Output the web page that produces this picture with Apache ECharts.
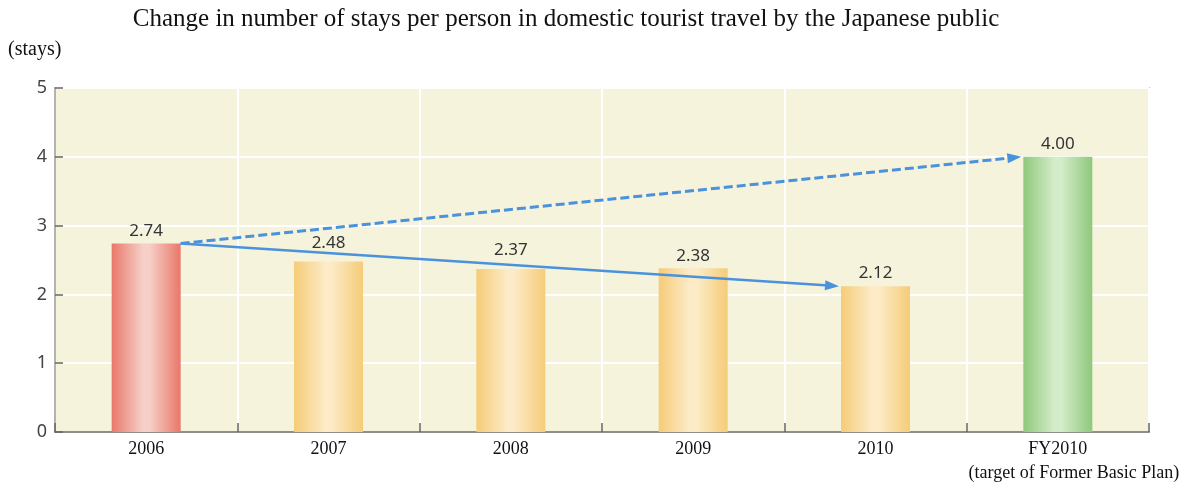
<!DOCTYPE html>
<html>
<head>
<meta charset="utf-8">
<script src="https://cdn.jsdelivr.net/npm/echarts@6/dist/echarts.min.js"></script>
<style>
  html, body { margin: 0; padding: 0; background: #ffffff; }
  #chart { width: 1195px; height: 486px; }
</style>
</head>
<body>
<div id="chart"></div>
<script>
// Stays per person per year, domestic tourist travel
const categories = ['2006', '2007', '2008', '2009', '2010', 'FY2010'];
const stays = [2.74, 2.48, 2.37, 2.38, 2.12, 4.00];
const valueLabels = ['2.74', '2.48', '2.37', '2.38', '2.12', '4.00'];
const yTicks = [0, 1, 2, 3, 4, 5];
// Arrows: [from category index, to category index, dashed?]
const arrows = [
  [0, 4, 0],
  [0, 5, 1]
];

const BAR_W = 69;
// Labels lifted a little higher so the trend arrow passes beneath them
const LIFTED_LABELS = new Set([1, 2]);

function barGradient(edge, mid) {
  return new echarts.graphic.LinearGradient(0, 0, 1, 0, [
    { offset: 0, color: edge },
    { offset: 0.45, color: mid },
    { offset: 0.55, color: mid },
    { offset: 1, color: edge }
  ]);
}
const redFill = barGradient('#e9776a', '#f6cfc6');
const yellowFill = barGradient('#f5cc78', '#fcebc6');
const greenFill = barGradient('#8fc87c', '#d4ecca');

const barData = stays.map((v, i) => ({
  value: v,
  itemStyle: {
    color: i === 0 ? redFill : (i === stays.length - 1 ? greenFill : yellowFill)
  },
  label: { formatter: valueLabels[i], distance: LIFTED_LABELS.has(i) ? 10 : 4 }
}));

const arrowData = arrows.map(a => [a[0], stays[a[0]], a[1], stays[a[1]], a[2]]);

const ARROW_COLOR = '#4a92dc';

function renderArrow(params, api) {
  const p0 = api.coord([api.value(0), api.value(1)]);
  const p1 = api.coord([api.value(2), api.value(3)]);
  const x0 = p0[0] + BAR_W / 2;
  const y0 = p0[1];
  const x1 = p1[0] - BAR_W / 2 - 2;
  const y1 = p1[1];
  const dashed = api.value(4) === 1;
  const ang = Math.atan2(y1 - y0, x1 - x0);
  const hl = 14, hw = 5;
  const bx = x1 - hl * Math.cos(ang), by = y1 - hl * Math.sin(ang);
  const nx = -Math.sin(ang), ny = Math.cos(ang);
  return {
    type: 'group',
    children: [
      {
        type: 'line',
        shape: { x1: x0, y1: y0, x2: bx, y2: by },
        style: {
          stroke: ARROW_COLOR,
          lineWidth: dashed ? 3 : 2.5,
          lineDash: dashed ? [9, 4] : null
        }
      },
      {
        type: 'polygon',
        shape: {
          points: [
            [x1, y1],
            [bx + nx * hw, by + ny * hw],
            [bx - nx * hw, by - ny * hw]
          ]
        },
        style: { fill: ARROW_COLOR }
      }
    ]
  };
}

const chart = echarts.init(document.getElementById('chart'), null, { renderer: 'canvas' });
chart.setOption({
  backgroundColor: '#ffffff',
  animation: false,
  title: {
    text: 'Change in number of stays per person in domestic tourist travel by the Japanese public',
    left: 561,
    textAlign: 'center',
    top: 2,
    textStyle: {
      fontFamily: 'Liberation Serif',
      fontWeight: 'normal',
      fontSize: 25,
      color: '#111111'
    }
  },
  grid: {
    left: 55, right: 46, top: 88, bottom: 54,
    show: true,
    backgroundColor: '#f5f3dc',
    borderColor: '#9a9a94',
    borderWidth: 1.5
  },
  xAxis: {
    type: 'category',
    data: categories,
    axisLine: { lineStyle: { color: '#8f8f8a', width: 2 } },
    axisTick: { show: true, inside: true, length: 9, interval: 0, lineStyle: { color: '#666666', width: 1.5 } },
    splitLine: { show: true, interval: 0, lineStyle: { color: '#ffffff', width: 2 } },
    axisLabel: {
      interval: 0,
      margin: 8,
      fontFamily: 'Liberation Serif',
      fontSize: 18,
      color: '#111111',
      formatter: function (v) {
        return v === 'FY2010' ? v + '\n{sub|(target of Former Basic Plan)}' : v;
      },
      rich: {
        sub: {
          fontFamily: 'Liberation Serif',
          fontSize: 18,
          color: '#111111',
          padding: [6, 0, 0, 32]
        }
      }
    }
  },
  yAxis: {
    type: 'value',
    min: yTicks[0],
    max: yTicks[yTicks.length - 1],
    interval: 1,
    name: '(stays)',
    nameLocation: 'end',
    nameGap: 28,
    nameTextStyle: {
      fontFamily: 'Liberation Serif',
      fontSize: 20,
      color: '#111111',
      align: 'left',
      padding: [0, 0, 0, -47]
    },
    axisLine: { show: true, lineStyle: { color: '#9a9a94', width: 1.5 } },
    axisTick: { show: true, inside: true, length: 8, lineStyle: { color: '#666666', width: 1.5 } },
    splitLine: { show: true, lineStyle: { color: '#ffffff', width: 2 } },
    axisLabel: {
      margin: 8,
      fontFamily: 'Noto Sans',
      fontSize: 18,
      color: '#444444'
    }
  },
  series: [
    {
      type: 'bar',
      data: barData,
      barWidth: BAR_W,
      label: {
        show: true,
        position: 'top',
        fontFamily: 'Noto Sans',
        fontSize: 17,
        color: '#333333'
      },
      z: 2
    },
    {
      type: 'custom',
      data: arrowData,
      encode: { x: [0, 2], y: [1, 3] },
      renderItem: renderArrow,
      silent: true,
      z: 5
    }
  ]
});
</script>
</body>
</html>
